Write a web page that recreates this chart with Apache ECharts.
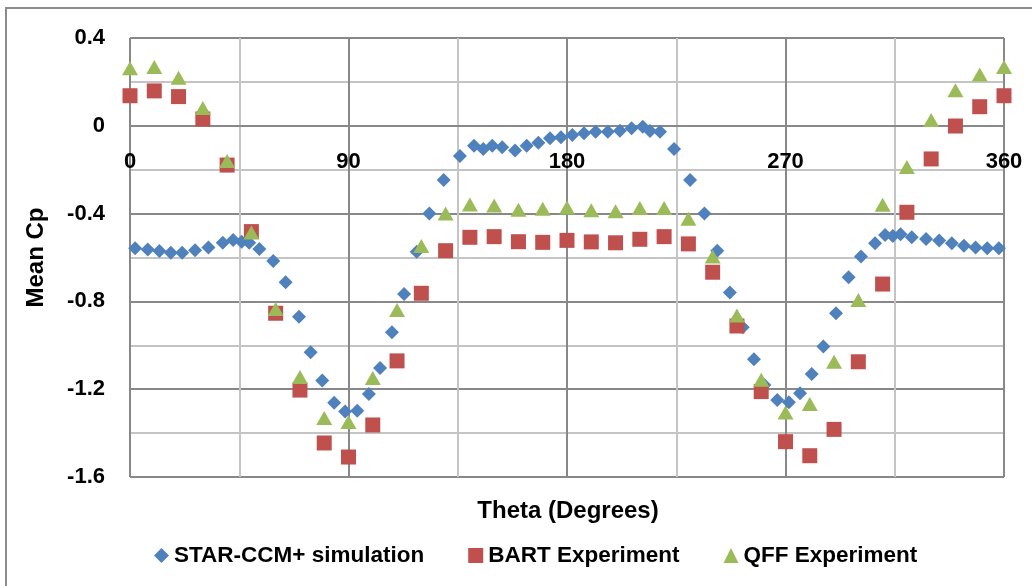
<!DOCTYPE html>
<html>
<head>
<meta charset="utf-8">
<script src="https://cdn.jsdelivr.net/npm/echarts@6/dist/echarts.min.js"></script>
<style>
  html, body { margin: 0; padding: 0; background: #fff; }
  #chart { width: 1032px; height: 586px; }
</style>
</head>
<body>
<div id="chart"></div>
<script>
// STAR-CCM+ simulation (irregular probe angles)
const simTheta = [2.1, 7.3, 12.1, 16.8, 21.5, 26.8, 32.3, 38.2, 42.5, 46.0, 49.1, 53.3, 59.0, 64.1, 69.6, 74.4,
  79.2, 84.1, 88.6, 93.6, 98.4, 103.0, 107.9, 112.9, 118.1, 123.3, 129.2, 135.9, 141.7, 145.5, 149.2, 153.3,
  158.6, 163.4, 168.2, 173.0, 177.5, 182.2, 187.0, 191.8, 196.8, 201.8, 206.6, 211.2, 214.2, 218.3, 224.1,
  230.7, 236.6, 241.9, 247.1, 252.4, 257.0, 261.3, 266.6, 271.4, 276.0, 280.8, 285.6, 290.8, 296.0, 301.1,
  306.9, 311.0, 314.2, 317.4, 322.0, 327.9, 333.3, 338.5, 343.5, 348.3, 353.1, 357.9];
const simCp = [-0.558, -0.563, -0.570, -0.578, -0.578, -0.567, -0.554, -0.533, -0.520, -0.528, -0.533, -0.561,
  -0.616, -0.713, -0.870, -1.032, -1.160, -1.262, -1.302, -1.298, -1.222, -1.103, -0.941, -0.766, -0.574,
  -0.399, -0.247, -0.138, -0.091, -0.106, -0.091, -0.098, -0.113, -0.091, -0.077, -0.057, -0.052, -0.042,
  -0.034, -0.027, -0.027, -0.022, -0.011, -0.004, -0.024, -0.027, -0.106, -0.247, -0.399, -0.569, -0.759,
  -0.918, -1.064, -1.181, -1.249, -1.260, -1.219, -1.131, -1.006, -0.854, -0.690, -0.596, -0.535, -0.497,
  -0.502, -0.494, -0.508, -0.516, -0.523, -0.535, -0.546, -0.554, -0.558, -0.558];

// experiments every 10 degrees
const expTheta = [0, 10, 20, 30, 40, 50, 60, 70, 80, 90, 100, 110, 120, 130, 140, 150, 160, 170, 180,
  190, 200, 210, 220, 230, 240, 250, 260, 270, 280, 290, 300, 310, 320, 330, 340, 350, 360];
const bartCp = [0.137, 0.159, 0.133, 0.031, -0.179, -0.482, -0.854, -1.204, -1.445, -1.509, -1.363, -1.071,
  -0.763, -0.569, -0.508, -0.505, -0.528, -0.531, -0.522, -0.529, -0.533, -0.517, -0.505, -0.538, -0.667,
  -0.912, -1.211, -1.439, -1.503, -1.383, -1.075, -0.721, -0.394, -0.151, -0.001, 0.087, 0.137];
const qffCp = [0.262, 0.268, 0.219, 0.081, -0.160, -0.486, -0.835, -1.144, -1.331, -1.349, -1.149, -0.839,
  -0.548, -0.399, -0.358, -0.363, -0.382, -0.378, -0.372, -0.385, -0.389, -0.374, -0.374, -0.424, -0.595,
  -0.864, -1.157, -1.306, -1.267, -1.075, -0.794, -0.360, -0.188, 0.026, 0.162, 0.234, 0.268];

const FONT = '"Liberation Sans", Arial, sans-serif';
const zip = (xs, ys) => xs.map((x, i) => [x, ys[i]]);

// grid box in px; x axis sits on Cp = 0
const gridTop = 38, gridBottom = 477, yMax = 0.4, yMin = -1.6;
const zeroOffset = -(gridBottom - gridTop) * (0 - yMin) / (yMax - yMin);

const chart = echarts.init(document.getElementById('chart'));
const option = {
  animation: false,
  textStyle: { fontFamily: FONT },
  title: {
    text: 'Theta (Degrees)',
    left: 563,
    textAlign: 'center',
    top: 494,
    textStyle: { fontFamily: FONT, fontWeight: 'bold', fontSize: 24, color: '#000' }
  },
  graphic: [{
    type: 'rect',
    shape: { x: 6, y: 8, width: 1100, height: 700 },
    style: { fill: 'none', stroke: '#8c8c8c', lineWidth: 2 }
  }],
  legend: {
    left: 149,
    top: 539,
    itemWidth: 15,
    itemHeight: 15,
    itemGap: 44,
    textStyle: { fontFamily: FONT, fontWeight: 'bold', fontSize: 22.5, color: '#000' },
    data: [
      { name: 'STAR-CCM+ simulation', icon: 'diamond' },
      { name: 'BART Experiment', icon: 'rect' },
      { name: 'QFF Experiment', icon: 'triangle' }
    ]
  },
  grid: { left: 130, top: gridTop, right: 28, bottom: 586 - gridBottom },
  xAxis: {
    type: 'value',
    min: 0,
    max: 360,
    interval: 90,
    offset: zeroOffset,
    axisLine: { onZero: false, lineStyle: { color: '#888', width: 2 } },
    axisTick: { show: false },
    minorTick: { show: false, splitNumber: 2 },
    axisLabel: {
      margin: 25, showMinLabel: true, showMaxLabel: true,
      fontFamily: FONT, fontWeight: 'bold', fontSize: 22, color: '#000'
    },
    splitLine: { show: true, lineStyle: { color: '#888', width: 2 } },
    minorSplitLine: { show: true, lineStyle: { color: '#c4c4c4', width: 2 } }
  },
  yAxis: {
    type: 'value',
    min: yMin,
    max: yMax,
    interval: 0.4,
    name: 'Mean Cp',
    nameLocation: 'middle',
    nameGap: 82,
    nameTextStyle: { fontFamily: FONT, fontWeight: 'bold', fontSize: 24, color: '#000' },
    axisLine: { show: false, onZero: false },
    axisTick: { show: false },
    minorTick: { show: false, splitNumber: 2 },
    axisLabel: {
      margin: 25,
      fontFamily: FONT, fontWeight: 'bold', fontSize: 22, color: '#000'
    },
    splitLine: { show: true, lineStyle: { color: '#888', width: 2 } },
    minorSplitLine: { show: true, lineStyle: { color: '#c4c4c4', width: 2 } }
  },
  series: [
    {
      name: 'STAR-CCM+ simulation',
      type: 'scatter',
      symbol: 'diamond',
      symbolSize: 14,
      itemStyle: { color: '#4f81bd', opacity: 1 },
      data: zip(simTheta, simCp),
      z: 2
    },
    {
      name: 'BART Experiment',
      type: 'scatter',
      symbol: 'rect',
      symbolSize: 15,
      itemStyle: { color: '#c0504d', opacity: 1 },
      data: zip(expTheta, bartCp),
      z: 3
    },
    {
      name: 'QFF Experiment',
      type: 'scatter',
      symbol: 'triangle',
      symbolSize: [16, 14],
      itemStyle: { color: '#9bbb59', opacity: 1 },
      data: zip(expTheta, qffCp),
      z: 4
    }
  ]
};
chart.setOption(option);
</script>
</body>
</html>
